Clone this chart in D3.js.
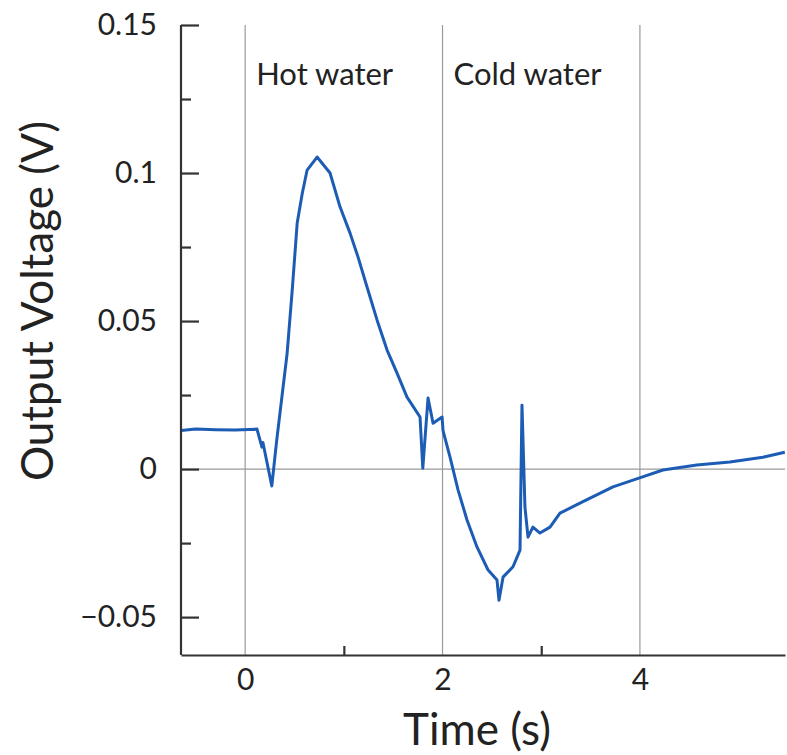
<!DOCTYPE html>
<html lang="en">
<head>
<meta charset="UTF-8">
<script src="https://cdn.jsdelivr.net/npm/d3@7/dist/d3.min.js"></script>
<title>Output Voltage</title>
<style>
  body { margin: 0; background: #fff; }
  text { font-family: Lato, "Open Sans", sans-serif; fill: #222; }
</style>
</head>
<body>
<script>
    // trace: time (s) and output voltage (V)
    var time = [-0.65, -0.5, -0.3, -0.1, 0.12, 0.17, 0.18, 0.27, 0.32, 0.425, 0.476, 0.527, 0.578, 0.628, 0.729,
        0.86, 0.962, 1.063, 1.144, 1.235, 1.337, 1.438, 1.539, 1.64, 1.772, 1.80, 1.853, 1.904, 1.995, 2.005,
        2.076, 2.157, 2.248, 2.349, 2.46, 2.552, 2.572, 2.613, 2.714, 2.785, 2.805, 2.835, 2.866, 2.916, 2.987,
        3.089, 3.19, 3.392, 3.727, 4.02, 4.233, 4.577, 4.911, 5.246, 5.468];
    var voltage = [0.0130, 0.0135, 0.0133, 0.0132, 0.0135, 0.0074, 0.0090, -0.0057, 0.0098, 0.039, 0.060, 0.083, 0.093, 0.101, 0.1054,
        0.100, 0.0885, 0.0797, 0.0716, 0.0615, 0.0503, 0.0402, 0.0324, 0.0243, 0.0176, 0.0003, 0.024, 0.0155, 0.0176, 0.013,
        0.004, -0.007, -0.0172, -0.0263, -0.034, -0.0375, -0.0443, -0.0365, -0.033, -0.0274, 0.0216, -0.0128, -0.023, -0.0196, -0.0216,
        -0.0196, -0.0149, -0.0115, -0.006, -0.0027, -0.0003, 0.0014, 0.0024, 0.004, 0.0057];
    var yTicks = [-0.05, 0, 0.05, 0.1, 0.15];
    var yMinor = [-0.025, 0.025, 0.075, 0.125];
    var xTicks = [0, 2, 4];
    var xMinor = [1, 3];
    var regions = [{ label: "Hot water", t: 0 }, { label: "Cold water", t: 2 }];

    var width = 787, height = 755;
    var margin = { top: 25, right: 2, bottom: 100, left: 181 };
    var svg = d3.select("body").append("svg").attr("width", width).attr("height", height);

    var x = d3.scaleLinear().domain([-0.65, 5.47]).range([margin.left, width - margin.right]);
    var y = d3.scaleLinear().domain([-0.0628, 0.15]).range([height - margin.bottom, margin.top]);

    var fmt = function(d) {
        if (d === 0) return "0";
        return (d < 0 ? "\u2212" : "") + String(Math.abs(d));
    };

    // grid lines
    svg.append("g").selectAll("line").data(xTicks).enter().append("line")
        .attr("x1", function(d) { return x(d); }).attr("x2", function(d) { return x(d); })
        .attr("y1", y(0.15)).attr("y2", y.range()[0])
        .attr("stroke", "#9a9a9a").attr("stroke-width", 1.2);
    svg.append("line")
        .attr("x1", x.range()[0]).attr("x2", x.range()[1])
        .attr("y1", y(0)).attr("y2", y(0))
        .attr("stroke", "#9a9a9a").attr("stroke-width", 1.2);

    // trace
    var pts = time.map(function(t, i) { return [t, voltage[i]]; });
    var line = d3.line().x(function(d) { return x(d[0]); }).y(function(d) { return y(d[1]); });
    svg.append("path").datum(pts)
        .attr("d", line)
        .attr("fill", "none")
        .attr("stroke", "#1d5cb5")
        .attr("stroke-width", 3)
        .attr("stroke-linejoin", "round");

    // axes
    var yAxis = svg.append("g").attr("transform", "translate(" + margin.left + ",0)")
        .call(d3.axisLeft(y).tickValues(yTicks).tickFormat(fmt).tickSize(-18).tickSizeOuter(0).tickPadding(24));
    svg.append("g").attr("transform", "translate(" + margin.left + ",0)")
        .call(d3.axisLeft(y).tickValues(yMinor).tickFormat("").tickSize(-10).tickSizeOuter(0))
        .select(".domain").remove();
    yAxis.select(".domain").attr("d", "M0," + y(0.15) + "V" + y.range()[0]);

    var xAxis = svg.append("g").attr("transform", "translate(0," + y.range()[0] + ")")
        .call(d3.axisBottom(x).tickValues(xTicks).tickFormat(d3.format("d")).tickSize(0).tickSizeOuter(0).tickPadding(14));
    svg.append("g").attr("transform", "translate(0," + y.range()[0] + ")")
        .call(d3.axisBottom(x).tickValues(xMinor).tickFormat("").tickSize(-9).tickSizeOuter(0))
        .select(".domain").remove();

    svg.selectAll(".domain").attr("stroke", "#333").attr("stroke-width", 2.2);
    svg.selectAll(".tick line").attr("stroke", "#333").attr("stroke-width", 2.2);
    svg.selectAll(".tick text").style("font-family", "Lato, 'Open Sans', sans-serif")
        .style("font-size", "30px").attr("fill", "#222");

    // region labels
    svg.selectAll(".region").data(regions).enter().append("text")
        .attr("x", function(d) { return x(d.t) + 11; })
        .attr("y", 85)
        .style("font-size", "31px")
        .text(function(d) { return d.label; });

    // axis titles
    svg.append("text")
        .attr("x", 477).attr("y", 745)
        .attr("text-anchor", "middle")
        .style("font-size", "44px")
        .text("Time (s)");
    svg.append("text")
        .attr("transform", "translate(53,301) rotate(-90)")
        .attr("text-anchor", "middle")
        .style("font-size", "44px")
        .text("Output Voltage (V)");
</script>
</body>
</html>
